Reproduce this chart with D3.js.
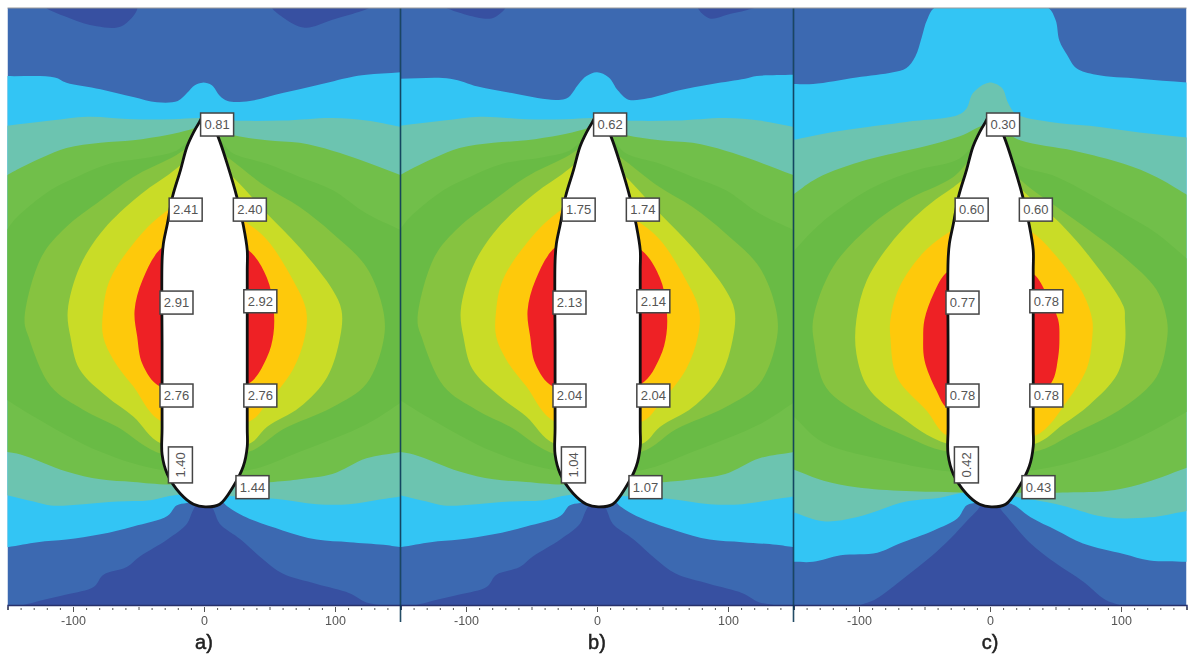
<!DOCTYPE html>
<html>
<head>
<meta charset="utf-8">
<title>Stress contours</title>
<script src="https://cdn.jsdelivr.net/npm/d3@7"></script>
<style>
  html, body { margin: 0; padding: 0; background: #fff; }
  svg { display: block; filter: blur(0.5px); }
  text { font-family: "Liberation Sans", Arial, sans-serif; }
</style>
</head>
<body>
<div id="chart"></div>
<script>
// Contour boundaries are [x, y] in model units, y measured up from the bottom of the body
var panelNames = ['a)', 'b)', 'c)'];
var xTickValues = [-100, 0, 100];
var xDomain = [-150, 150];
var yDomain = [-75, 381];

var colors = {
    deep: '#3750a1', blue: '#3c69b1', sky: '#33c5f4', teal: '#6cc4b0',
    green1: '#71bf4a', green2: '#69bb45', lime: '#86c340',
    yellow: '#c9dc27', orange: '#fec90b', red: '#ee2125'
};

// Panels a and b
var skyTopA = [[-151,329],[-114,328],[-105,324],[-79,319],[-54,313],[-36,309],[-20,310],[-13,316],[-7,322],[-1,324],[6,322],[12,314],[18,310],[35,310],[60,316],[86,322],[111,328],[124,330],[151,332]];
var skyTopB = [[-151,327],[-112,327],[-91,321],[-65,316],[-35,311],[-23,312],[-14,323],[-8,329],[0,332],[9,328],[16,318],[24,311],[39,312],[62,318],[88,323],[113,327],[122,329],[151,330]];
var skyBottomAB = [[151,-31],[137,-29],[111,-27],[86,-25],[60,-18],[30,-7],[17,1],[15,3],[0,4],[-13,3],[-21,1],[-28,-7],[-54,-15],[-79,-21],[-105,-25],[-127,-27],[-151,-31]];
var deepTopA1 = [[-121,382],[-102,373],[-82,367],[-63,367],[-51,382]];
var deepTopA2 = [[52,382],[60,374],[77,366],[98,372],[127,382]];
var deepTopB1 = [[-116,382],[-87,373],[-78,374],[-70,382]];
var deepTopB2 = [[77,382],[86,373],[100,376],[122,382]];
var deepBottomAB = [[-4,4],[-9,-4],[-13,-13],[-28,-25],[-49,-38],[-59,-46],[-77,-52],[-84,-61],[-105,-67],[-130,-73],[-140,-76],[140,-76],[124,-73],[111,-66],[86,-59],[60,-51],[45,-40],[28,-25],[12,-13],[8,-4],[4,4]];
var tealAB = [[-151,291],[-117,295],[-89,298],[-54,296],[-24,296],[-3,297],[22,295],[60,295],[98,297],[124,295],[151,290],[151,8],[137,6],[111,2],[86,2],[56,6],[22,8],[-21,9],[-41,5],[-66,4],[-92,2],[-117,1],[-130,4],[-151,9]];
var green1AB = [[-151,253],[-140,259],[-123,267],[-105,274],[-79,278],[-54,280],[-28,284],[-11,288],[0,291],[22,284],[48,280],[73,278],[98,272],[119,265],[151,253],[151,42],[124,37],[98,25],[73,21],[53,19],[-26,17],[-54,19],[-79,21],[-105,27],[-140,40],[-151,42]];
var green2AB = [[-151,211],[-143,221],[-117,242],[-97,252],[-72,262],[-41,267],[-21,272],[-13,278],[0,285],[12,280],[22,270],[48,262],[73,252],[98,242],[124,224],[151,211],[151,80],[124,63],[73,42],[34,28],[-31,28],[-79,42],[-130,69],[-151,82]];
var limeAB = [[-134,130],[-137,143],[-124,191],[-105,214],[-79,234],[-54,252],[-24,267],[0,280],[18,267],[48,244],[73,229],[98,209],[124,183],[137,149],[137,127],[124,94],[98,76],[60,59],[34,42],[-31,40],[-66,61],[-92,74],[-117,92]];
var yellowAB = [[-102,130],[-104,150],[-95,183],[-79,209],[-54,234],[-28,253],[0,270],[22,252],[48,224],[73,198],[98,166],[105,150],[104,130],[94,99],[73,76],[48,61],[34,48],[-32,48],[-54,69],[-74,84],[-95,105]];
var orangeAB = [[-77,130],[-77,150],[-72,173],[-54,201],[-31,224],[0,240],[30,219],[48,204],[68,173],[78,150],[77,130],[68,105],[48,79],[34,65],[-32,65],[-54,92],[-69,112]];
var redAB = [[-34,92],[-47,109],[-51,130],[-53,150],[-47,173],[-32,198],[0,210],[34,196],[48,175],[53,153],[53,132],[48,114],[34,94],[0,90]];

// Panel c
var skyC = [[-151,323],[-135,323],[-102,328],[-74,332],[-64,335],[-57,344],[-52,359],[-48,372],[-41,382],[43,382],[50,372],[53,356],[59,345],[66,335],[81,330],[114,327],[151,324],[151,-42],[122,-41],[102,-36],[71,-28],[51,-18],[31,-8],[19,1],[14,3],[0,4],[-12,3],[-18,1],[-25,-9],[-43,-18],[-69,-28],[-86,-35],[-114,-37],[-135,-42],[-151,-42]];
var deepBottomC = [[-4,4],[-10,-3],[-17,-10],[-30,-24],[-45,-38],[-60,-50],[-74,-61],[-88,-71],[-100,-76],[100,-76],[88,-71],[71,-57],[50,-43],[30,-27],[15,-10],[9,-3],[4,4]];
var tealC = [[-151,280],[-127,285],[-102,289],[-64,294],[-25,299],[-18,304],[-13,316],[-1,324],[9,320],[14,308],[20,300],[46,294],[76,291],[114,286],[151,282],[151,-3],[122,-8],[89,-8],[51,2],[23,7],[-18,11],[-38,7],[-64,4],[-102,-8],[-127,-11],[-151,-4]];
var green1C = [[-151,238],[-132,251],[-94,265],[-51,275],[-23,283],[0,292],[23,280],[64,272],[102,262],[127,252],[151,238],[151,30],[114,17],[89,12],[59,11],[-23,11],[-64,12],[-102,15],[-127,20],[-151,29]];
var green2C = [[-151,194],[-135,211],[-120,224],[-89,244],[-56,257],[-25,265],[0,285],[20,262],[51,252],[76,239],[102,224],[127,209],[151,189],[151,73],[114,53],[76,38],[33,28],[-30,27],[-76,35],[-127,49],[-151,70]];
var limeC = [[-135,143],[-120,183],[-92,214],[-64,234],[-28,252],[0,278],[23,250],[51,229],[76,211],[102,191],[127,166],[135,143],[135,127],[127,99],[102,76],[64,56],[34,42],[-32,42],[-69,56],[-94,68],[-125,91],[-134,124]];
var yellowC = [[-102,143],[-94,173],[-76,201],[-51,227],[-31,242],[0,260],[33,234],[51,219],[76,191],[102,153],[103,143],[103,124],[97,101],[76,78],[56,63],[34,48],[-32,48],[-71,71],[-93,91],[-102,117]];
var orangeC = [[-76,143],[-69,168],[-51,194],[-31,210],[0,225],[32,210],[51,191],[71,163],[78,143],[78,129],[74,106],[59,81],[34,54],[-32,54],[-48,73],[-71,99],[-76,129]];
var redC = [[-32,180],[-43,163],[-50,143],[-51,129],[-50,112],[-41,89],[-32,75],[0,70],[33,85],[47,95],[52,114],[53,129],[52,143],[43,163],[33,178],[0,190]];

var bodyOutline = [[0,299],[4,297],[11,282],[18,261],[25,237],[30,215],[33,196],[33,181],[33,120],[33,60],[33,46],[30,31],[22,15],[12,2],[1,0],[-8,2],[-18,10],[-28,25],[-32,40],[-32,60],[-32,120],[-32,188],[-31,201],[-28,216],[-24,237],[-18,257],[-13,275],[-8,286],[-4,293]];

// Value labels, same spots on each panel
var labelX = [10, -14, 35, -21, 43, -21, 43, -18, 37];
var labelY = [292, 227, 227, 156, 157, 85, 85, 32, 15];
var labelTurn = [0, 0, 0, 0, 0, 0, 0, -90, 0];
var valuesA = ['0.81', '2.41', '2.40', '2.91', '2.92', '2.76', '2.76', '1.40', '1.44'];
var valuesB = ['0.62', '1.75', '1.74', '2.13', '2.14', '2.04', '2.04', '1.04', '1.07'];
var valuesC = ['0.30', '0.60', '0.60', '0.77', '0.78', '0.78', '0.78', '0.42', '0.43'];

function layersAB(skyTop, deep1, deep2) {
    return [
        { points: deep1, fill: colors.deep },
        { points: deep2, fill: colors.deep },
        { points: skyTop.concat(skyBottomAB), fill: colors.sky },
        { points: deepBottomAB, fill: colors.deep },
        { points: tealAB, fill: colors.teal },
        { points: green1AB, fill: colors.green1 },
        { points: green2AB, fill: colors.green2 },
        { points: limeAB, fill: colors.lime },
        { points: yellowAB, fill: colors.yellow },
        { points: orangeAB, fill: colors.orange },
        { points: redAB, fill: colors.red }
    ];
}

/**
 * Contours that leave the panel would dip at the frame once splined, so
 * carry them on past the frame along their last direction before closing
 */
function runPastFrame(points) {
    var out = [];
    var n = points.length;
    function beyond(p, q) {
        var side = p[0] < 0 ? -200 : 200;
        var slope = (p[1] - q[1]) / (p[0] - q[0]);
        return [side, p[1] + (side - p[0]) * slope];
    }
    points.forEach(function(p, i) {
        var prev = points[(i + n - 1) % n];
        var next = points[(i + 1) % n];
        var onFrame = Math.abs(p[0]) >= 151;
        if (onFrame && Math.abs(next[0]) >= 151 && Math.abs(prev[0]) < 151) {
            out.push(p, beyond(p, prev));
        } else if (onFrame && Math.abs(prev[0]) >= 151 && Math.abs(next[0]) < 151) {
            out.push(beyond(p, next), p);
        } else {
            out.push(p);
        }
    });
    return out;
}

var panels = [
    { name: panelNames[0], values: valuesA, layers: layersAB(skyTopA, deepTopA1, deepTopA2) },
    { name: panelNames[1], values: valuesB, layers: layersAB(skyTopB, deepTopB1, deepTopB2) },
    { name: panelNames[2], values: valuesC, layers: [
        { points: skyC, fill: colors.sky },
        { points: deepBottomC, fill: colors.deep },
        { points: tealC, fill: colors.teal },
        { points: green1C, fill: colors.green1 },
        { points: green2C, fill: colors.green2 },
        { points: limeC, fill: colors.lime },
        { points: yellowC, fill: colors.yellow },
        { points: orangeC, fill: colors.orange },
        { points: redC, fill: colors.red }
    ] }
];

var width = 1192, height = 657;
var panelWidth = 393, left = 7.5, top_ = 8, bottom = 605;

var svg = d3.select('#chart').append('svg')
    .attr('width', width)
    .attr('height', height);

var y = d3.scaleLinear().domain(yDomain).range([bottom, top_]);

var defs = svg.append('defs');

panels.forEach(function(panel, i) {
    var x0 = left + i * panelWidth;
    var x = d3.scaleLinear().domain(xDomain).range([x0, x0 + panelWidth]);
    var path = d3.line()
        .x(function(d) { return x(d[0]); })
        .y(function(d) { return y(d[1]); })
        .curve(d3.curveCatmullRomClosed.alpha(0.5));

    defs.append('clipPath').attr('id', 'clip-' + i)
        .append('rect')
        .attr('x', x0).attr('y', top_)
        .attr('width', panelWidth).attr('height', bottom - top_);

    var g = svg.append('g');
    var field = g.append('g').attr('clip-path', 'url(#clip-' + i + ')');

    field.append('rect')
        .attr('x', x0).attr('y', top_)
        .attr('width', panelWidth).attr('height', bottom - top_)
        .attr('fill', colors.blue);

    field.selectAll('path.band')
        .data(panel.layers)
        .enter()
        .append('path')
        .attr('class', 'band')
        .attr('d', function(d) { return path(runPastFrame(d.points)); })
        .attr('fill', function(d) { return d.fill; });

    // Body
    g.append('path')
        .attr('d', path(bodyOutline))
        .attr('fill', '#fff')
        .attr('stroke', '#111')
        .attr('stroke-width', 2.8);

    // Value labels
    var labels = g.selectAll('g.value')
        .data(panel.values)
        .enter()
        .append('g')
        .attr('class', 'value')
        .attr('transform', function(d, j) {
            return 'translate(' + x(labelX[j]) + ',' + y(labelY[j]) + ') rotate(' + labelTurn[j] + ')';
        });
    labels.append('rect')
        .attr('x', function(d, j) { return labelTurn[j] ? -18 : -16.5; })
        .attr('y', function(d, j) { return labelTurn[j] ? -12 : -11.5; })
        .attr('width', function(d, j) { return labelTurn[j] ? 36 : 33; })
        .attr('height', function(d, j) { return labelTurn[j] ? 24 : 23; })
        .attr('fill', '#fff')
        .attr('stroke', '#444')
        .attr('stroke-width', 1.5);
    labels.append('text')
        .attr('text-anchor', 'middle')
        .attr('dy', '0.36em')
        .attr('font-size', 13)
        .attr('fill', '#555')
        .text(function(d) { return d; });

    // Axis: small marks every 10, longer ones on the fifties and the numbered values
    var minorAxis = d3.axisBottom(x)
        .tickValues(d3.range(-150, 151, 10))
        .tickSize(5)
        .tickFormat('');
    var majorAxis = d3.axisBottom(x)
        .tickValues(xTickValues)
        .tickSize(7)
        .tickPadding(4)
        .tickFormat(function(d) { return String(d); });

    var axisG = g.append('g').attr('transform', 'translate(0,' + bottom + ')');
    axisG.append('g').call(minorAxis).call(function(a) {
        a.select('.domain').attr('stroke', '#27306b').attr('stroke-width', 1.5);
        a.selectAll('.tick line')
            .attr('stroke', '#555')
            .attr('y1', function(d) { return d % 50 === 0 ? 2 : 3; });
    });
    axisG.append('g').call(majorAxis).call(function(a) {
        a.select('.domain').remove();
        a.selectAll('.tick line').attr('stroke', '#555').attr('y1', 2);
        a.selectAll('text')
            .attr('font-size', 12.5)
            .attr('font-family', '"Liberation Sans", Arial, sans-serif')
            .attr('fill', '#555');
    });

    g.append('text')
        .attr('x', x(0))
        .attr('y', 649)
        .attr('text-anchor', 'middle')
        .attr('font-size', 20)
        .attr('fill', '#222')
        .attr('stroke', '#222')
        .attr('stroke-width', 0.5)
        .text(panel.name);
});

// Panel dividers and top rule
var x0Line = d3.range(1, panels.length).map(function(i) { return left + i * panelWidth; });
svg.selectAll('line.divider')
    .data(x0Line)
    .enter()
    .append('line')
    .attr('class', 'divider')
    .attr('x1', function(d) { return d; })
    .attr('x2', function(d) { return d; })
    .attr('y1', top_)
    .attr('y2', 622)
    .attr('stroke', '#0c3a55')
    .attr('stroke-opacity', 0.9)
    .attr('stroke-width', 1.6);

svg.append('line')
    .attr('x1', left).attr('x2', left + 3 * panelWidth)
    .attr('y1', top_).attr('y2', top_)
    .attr('stroke', '#999')
    .attr('stroke-width', 1);
</script>
</body>
</html>
